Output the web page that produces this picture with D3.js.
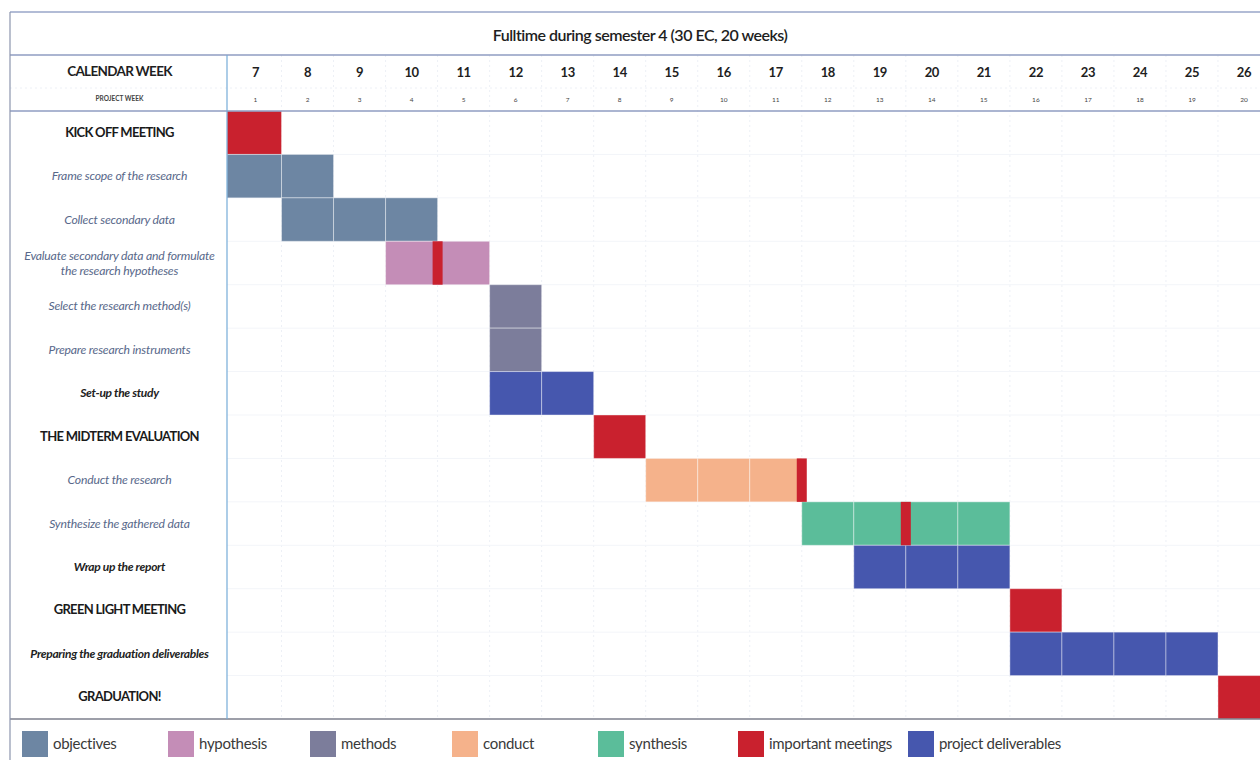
<!DOCTYPE html>
<html>
<head>
<meta charset="utf-8">
<script src="https://cdn.jsdelivr.net/npm/d3@7"></script>
<style>
  html, body { margin: 0; padding: 0; background: #ffffff; }
  svg { display: block; font-family: Lato, "Open Sans", sans-serif; }
</style>
</head>
<body>
<svg id="chart" width="1260" height="760"></svg>
<script>
// ---- data ----
const title = "Fulltime during semester 4 (30 EC, 20 weeks)";
const calendarWeeks = [7, 8, 9, 10, 11, 12, 13, 14, 15, 16, 17, 18, 19, 20, 21, 22, 23, 24, 25, 26];
const projectWeeks = [1, 2, 3, 4, 5, 6, 7, 8, 9, 10, 11, 12, 13, 14, 15, 16, 17, 18, 19, 20];

const taskLabels = [
  ["KICK OFF MEETING"],
  ["Frame scope of the research"],
  ["Collect secondary data"],
  ["Evaluate secondary data and formulate", "the research hypotheses"],
  ["Select the research method(s)"],
  ["Prepare research instruments"],
  ["Set-up the study"],
  ["THE MIDTERM EVALUATION"],
  ["Conduct the research"],
  ["Synthesize the gathered data"],
  ["Wrap up the report"],
  ["GREEN LIGHT MEETING"],
  ["Preparing the graduation deliverables"],
  ["GRADUATION!"]
];
const taskKinds = ["meeting", "task", "task", "task", "task", "task", "step", "meeting", "task", "task", "step", "meeting", "step", "meeting"];
const taskCategory = ["important meetings", "objectives", "objectives", "hypothesis", "methods", "methods", "project deliverables",
  "important meetings", "conduct", "synthesis", "project deliverables", "important meetings", "project deliverables", "important meetings"];
const taskStart = [7, 7, 8, 10, 12, 12, 12, 14, 15, 18, 19, 22, 22, 26];
const taskEnd   = [7, 8, 10, 11, 12, 12, 13, 14, 17, 21, 21, 22, 25, 26];

// meetings that fall inside a running task: row index and calendar week at whose start they happen
const checkpointRow  = [3, 8, 9];
const checkpointWeek = [11, 18, 20];

const legendItems = ["objectives", "hypothesis", "methods", "conduct", "synthesis", "important meetings", "project deliverables"];
const legendColors = ["#6d86a3", "#c48db7", "#7c7d9b", "#f5b28b", "#5bbd9a", "#c9212e", "#4657ae"];

// ---- layout ----
const svg = d3.select("#chart");
const frameLeft = 10, frameRight = 1270, frameTop = 12;
const titleBottom = 55, headerBottom = 111, bodyBottom = 719;
const labelRight = 227, weeksLeft = 229.5;

const color = d3.scaleOrdinal().domain(legendItems).range(legendColors);
const x = d3.scaleBand().domain(calendarWeeks).range([weeksLeft, frameRight]);
const rows = d3.range(taskLabels.length);
const y = d3.scaleBand().domain(rows).range([headerBottom, bodyBottom]);
const weekEdge = w => w > calendarWeeks[calendarWeeks.length - 1] ? frameRight : x(w);
// the first week column reaches back to the label divider
const cellX = w => w === calendarWeeks[0] ? labelRight : x(w);
const cellW = w => x(w) + x.bandwidth() - cellX(w);

const grid = svg.append("g");
// faint week columns through header and body
grid.selectAll("line.col").data(calendarWeeks.slice(1)).join("line")
  .attr("x1", d => x(d)).attr("x2", d => x(d))
  .attr("y1", titleBottom).attr("y2", bodyBottom)
  .attr("stroke", "#edf0f6").attr("stroke-width", 1).attr("stroke-dasharray", "2,3");
// faint row lines
grid.selectAll("line.row").data(rows.slice(1)).join("line")
  .attr("x1", labelRight).attr("x2", frameRight)
  .attr("y1", d => y(d)).attr("y2", d => y(d))
  .attr("stroke", "#f3f5f9").attr("stroke-width", 1);
// split between calendar and project week rows
grid.append("line").attr("x1", frameLeft).attr("x2", frameRight).attr("y1", 88).attr("y2", 88)
  .attr("stroke", "#edf0f6").attr("stroke-width", 1).attr("stroke-dasharray", "2,3");

// ---- bars, one cell per week ----
const cells = [];
rows.forEach(i => {
  for (let w = taskStart[i]; w <= taskEnd[i]; w++) cells.push({ row: i, week: w, cat: taskCategory[i] });
});
svg.append("g").selectAll("rect").data(cells).join("rect")
  .attr("x", d => cellX(d.week))
  .attr("y", d => y(d.row))
  .attr("width", d => cellW(d.week))
  .attr("height", y.bandwidth())
  .attr("fill", d => color(d.cat))
  .attr("stroke", "#ffffff").attr("stroke-opacity", 0.4).attr("stroke-width", 1);

// checkpoint meetings
svg.append("g").selectAll("rect").data(checkpointRow).join("rect")
  .attr("x", (d, i) => weekEdge(checkpointWeek[i]) - 5)
  .attr("y", d => y(d))
  .attr("width", 10)
  .attr("height", y.bandwidth())
  .attr("fill", color("important meetings"));

// ---- frame ----
const frame = svg.append("g").attr("fill", "none");
frame.append("line").attr("x1", frameLeft).attr("x2", frameRight).attr("y1", frameTop).attr("y2", frameTop).attr("stroke", "#98a6c8").attr("stroke-width", 1.5);
frame.append("line").attr("x1", frameLeft).attr("x2", frameRight).attr("y1", titleBottom).attr("y2", titleBottom).attr("stroke", "#8f9dc2").attr("stroke-width", 1.5);
frame.append("line").attr("x1", frameLeft).attr("x2", frameRight).attr("y1", headerBottom).attr("y2", headerBottom).attr("stroke", "#8f9dc2").attr("stroke-width", 1.5);
frame.append("line").attr("x1", frameLeft).attr("x2", frameRight).attr("y1", bodyBottom).attr("y2", bodyBottom).attr("stroke", "#7c7f8c").attr("stroke-width", 1.5);
frame.append("line").attr("x1", frameLeft).attr("x2", frameLeft).attr("y1", frameTop).attr("y2", 760).attr("stroke", "#8c95ad").attr("stroke-width", 1.2);
frame.append("line").attr("x1", labelRight).attr("x2", labelRight).attr("y1", titleBottom).attr("y2", bodyBottom).attr("stroke", "#76acd8").attr("stroke-width", 1.2);

// ---- header texts ----
svg.append("text").attr("x", (frameLeft + frameRight) / 2).attr("y", 41)
  .attr("text-anchor", "middle").attr("font-size", 16).attr("font-weight", 600)
  .attr("letter-spacing", -0.5).attr("fill", "#1e1e1e").text(title);

const labelMid = (frameLeft + labelRight) / 2 + 1;
svg.append("text").attr("x", labelMid).attr("y", 76).attr("text-anchor", "middle")
  .attr("font-size", 13.5).attr("font-weight", 700).attr("letter-spacing", -0.7).attr("fill", "#1e1e1e")
  .text("CALENDAR WEEK");
svg.append("text").attr("x", labelMid).attr("y", 101).attr("text-anchor", "middle")
  .attr("font-size", 6.5).attr("font-weight", 700).attr("fill", "#444").text("PROJECT WEEK");

const calAxis = d3.axisTop(x).tickSize(0).tickPadding(0);
svg.append("g").attr("transform", "translate(0,77)").call(calAxis)
  .call(g => g.select(".domain").remove())
  .call(g => g.selectAll("text").attr("font-size", 13).attr("font-weight", 700)
    .attr("letter-spacing", -0.4).attr("fill", "#1e1e1e").attr("font-family", "Lato, sans-serif").attr("dy", 0));

const projScale = d3.scaleBand().domain(projectWeeks).range([weeksLeft, frameRight]);
svg.append("g").attr("transform", "translate(0,102)").call(d3.axisTop(projScale).tickSize(0).tickPadding(0))
  .call(g => g.select(".domain").remove())
  .call(g => g.selectAll("text").attr("font-size", 6.5).attr("fill", "#444")
    .attr("font-family", "Lato, sans-serif").attr("dy", 0));

// ---- row labels ----
const labelG = svg.append("g");
rows.forEach(i => {
  const kind = taskKinds[i];
  const lines = taskLabels[i];
  const cy = y(i) + y.bandwidth() / 2;
  const t = labelG.append("text").attr("x", labelMid).attr("text-anchor", "middle")
    .attr("y", cy - (lines.length - 1) * 7.5 + 4);
  if (kind === "meeting") {
    t.attr("font-size", 13).attr("font-weight", 700).attr("letter-spacing", -0.7).attr("fill", "#1a1a1a");
  } else if (kind === "step") {
    t.attr("font-size", 12).attr("font-weight", 700).attr("font-style", "italic").attr("letter-spacing", -0.3).attr("fill", "#222");
  } else {
    t.attr("font-size", 12.2).attr("font-style", "italic").attr("letter-spacing", -0.2).attr("fill", "#58688a");
  }
  lines.forEach((s, k) => t.append("tspan").attr("x", labelMid).attr("dy", k === 0 ? 0 : 15).text(s));
});

// ---- legend ----
const legendX = [22, 168, 310, 452, 598, 738, 908];
const legend = svg.append("g").selectAll("g").data(legendItems).join("g")
  .attr("transform", (d, i) => `translate(${legendX[i]},731)`);
legend.append("rect").attr("width", 26).attr("height", 26).attr("fill", d => color(d));
legend.append("text").attr("x", 31).attr("y", 18).attr("font-size", 15).attr("letter-spacing", -0.3)
  .attr("fill", "#3a3a3a").text(d => d);
</script>
</body>
</html>
